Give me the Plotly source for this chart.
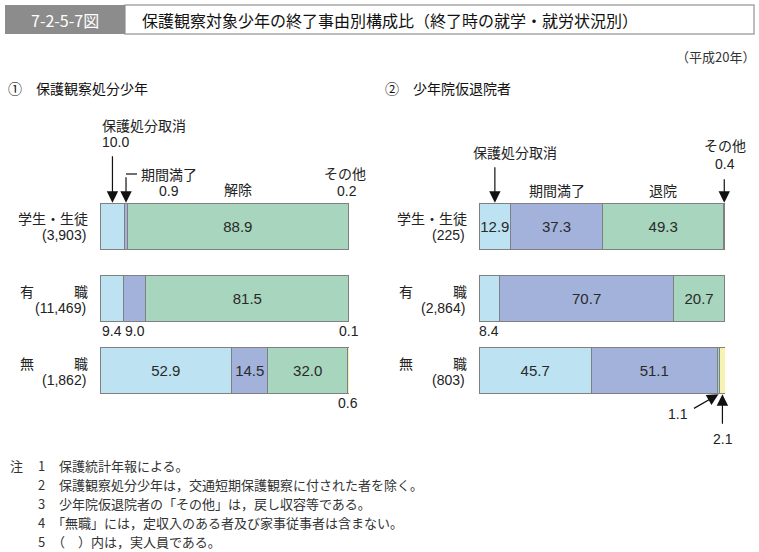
import plotly.graph_objects as go

W, H = 759, 552
FONT = "Liberation Sans, Noto Sans CJK JP, sans-serif"
JFONT = "Noto Sans CJK JP, sans-serif"

# ---------------- data ----------------
rows_left = ["学生・生徒", "有職", "無職"]
counts_left = ["3,903", "11,469", "1,862"]
seg_left = ["保護処分取消", "期間満了", "解除", "その他"]
vals_left = [
    [10.0, 9.4, 52.9],   # 保護処分取消
    [0.9, 9.0, 14.5],    # 期間満了
    [88.9, 81.5, 32.0],  # 解除
    [0.2, 0.1, 0.6],     # その他
]
inside_left = [
    [False, False, True],
    [False, False, True],
    [True, True, True],
    [False, False, False],
]

rows_right = ["学生・生徒", "有職", "無職"]
counts_right = ["225", "2,864", "803"]
seg_right = ["保護処分取消", "期間満了", "退院", "その他"]
vals_right = [
    [12.9, 8.4, 45.7],
    [37.3, 70.7, 51.1],
    [49.3, 20.7, 1.1],
    [0.4, 0.2, 2.1],
]
inside_right = [
    [True, False, True],
    [True, True, True],
    [True, True, False],
    [False, False, False],
]

colors = ["#bde3f3", "#a2b2da", "#a7d5bd", "#f7f2b0"]
edge = "#808080"

# ---------------- geometry helpers ----------------
LX0, LX1 = 100, 349
RX0, RX1 = 479, 725
ROW0_PX = 226.5   # pixel centre of first row
ROW_PX = 72.0     # pixel distance between rows
DOM_TOP, DOM_BOT = 105, 455


def yd(py):
    return (py - ROW0_PX) / ROW_PX


def xl(px):
    return (px - LX0) / (LX1 - LX0) * 100


def xr(px):
    return (px - RX0) / (RX1 - RX0) * 100


def PX(px):
    return px / W


def PY(py):
    return 1 - py / H


fig = go.Figure()

for vals, flags, names, xa, ya in [
    (vals_left, inside_left, seg_left, "x", "y"),
    (vals_right, inside_right, seg_right, "x2", "y2"),
]:
    for i, (v, f, n) in enumerate(zip(vals, flags, names)):
        fig.add_trace(go.Bar(
            orientation="h", x=v, y=[0, 1, 2], name=n,
            marker=dict(color=colors[i], line=dict(color=edge, width=1)),
            text=[f"{a:.1f}" if b else "" for a, b in zip(v, f)],
            textposition="inside", insidetextanchor="middle",
            constraintext="none", textangle=0,
            textfont=dict(family=FONT, size=15, color="#2a2a2a"),
            hoverinfo="skip", showlegend=False, width=0.65,
            xaxis=xa, yaxis=ya,
        ))

ann = []
shapes = []


def txt(x, y, s, xref="paper", yref="paper", xanchor="center", size=14, color="#222", font=FONT):
    ann.append(dict(x=x, y=y, xref=xref, yref=yref, text=s, showarrow=False,
                    xanchor=xanchor, yanchor="middle",
                    font=dict(family=font, size=size, color=color)))


def arrow(x, y, ax, ay, xref, yref):
    ann.append(dict(x=x, y=y, xref=xref, yref=yref, text="", showarrow=True,
                    ax=ax, ay=ay, arrowhead=2, arrowsize=1.9, arrowwidth=1.2,
                    arrowcolor="#111", standoff=0))


# header
shapes.append(dict(type="rect", xref="paper", yref="paper", x0=PX(125), x1=PX(754),
                   y0=PY(34), y1=PY(5), fillcolor="white", line=dict(color="#a8a8a8", width=1.5)))
shapes.append(dict(type="rect", xref="paper", yref="paper", x0=PX(5), x1=PX(125),
                   y0=PY(34), y1=PY(5), fillcolor="#8c8c8c", line=dict(width=0)))
txt(PX(65), PY(20), "7-2-5-7図", size=16, color="white", font=JFONT)
txt(PX(140), PY(20), "保護観察対象少年の終了事由別構成比（終了時の就学・就労状況別）",
    xanchor="left", size=16, color="#111", font=JFONT)
txt(PX(757), PY(56), "（平成20年）", xanchor="right", size=13, color="#333", font=JFONT)

txt(PX(6), PY(88), "①　保護観察処分少年", xanchor="left", size=14, color="#111", font=JFONT)
txt(PX(383), PY(88), "②　少年院仮退院者", xanchor="left", size=14, color="#111", font=JFONT)

# row labels
for rows, counts, rx, lx in [(rows_left, counts_left, 90, 18), (rows_right, counts_right, 469, 397)]:
    for r, (lab, cnt) in enumerate(zip(rows, counts)):
        cy = ROW0_PX + ROW_PX * r
        if len(lab) == 2:
            txt(PX(lx), PY(cy - 8), lab[0], xanchor="left", font=JFONT)
            txt(PX(rx), PY(cy - 8), lab[1], xanchor="right", font=JFONT)
        else:
            txt(PX(rx), PY(cy - 8), lab, xanchor="right", font=JFONT)
        txt(PX(rx - 2), PY(cy + 9), f"({cnt})", xanchor="right", size=14)

# ---- left panel outside labels ----
mid = lambda vals, k, r: sum(vals[j][r] for j in range(k)) + vals[k][r] / 2
bar_top = -0.33
bar_bot = 2.33

txt(0, yd(125), seg_left[0], "x", "y", xanchor="left", font=JFONT)
txt(0, yd(142), f"{vals_left[0][0]:.1f}", "x", "y", xanchor="left")
arrow(mid(vals_left, 0, 0), bar_top, 0, -48, "x", "y")

arrow(mid(vals_left, 1, 0), bar_top, 0, -27, "x", "y")
shapes.append(dict(type="line", xref="x", yref="y", x0=mid(vals_left, 1, 0), x1=xl(137),
                   y0=yd(174), y1=yd(174), line=dict(color="#111", width=1.2)))
txt(xl(169), yd(174), seg_left[1], "x", "y", font=JFONT)
txt(xl(169), yd(191), f"{vals_left[1][0]:.1f}", "x", "y")

txt(mid(vals_left, 2, 0), yd(189), seg_left[2], "x", "y", font=JFONT)
txt(xl(345), yd(173), seg_left[3], "x", "y", font=JFONT)
txt(xl(347), yd(191), f"{vals_left[3][0]:.1f}", "x", "y")

txt(mid(vals_left, 0, 1), yd(331), f"{vals_left[0][1]:.1f}", "x", "y")
txt(mid(vals_left, 1, 1), yd(331), f"{vals_left[1][1]:.1f}", "x", "y")
txt(mid(vals_left, 3, 1), yd(331), f"{vals_left[3][1]:.1f}", "x", "y")
txt(mid(vals_left, 3, 2), yd(403), f"{vals_left[3][2]:.1f}", "x", "y")

# ---- right panel outside labels ----
txt(xr(515), yd(152), seg_right[0], "x2", "y2", font=JFONT)
arrow(mid(vals_right, 0, 0), bar_top, 0, -37, "x2", "y2")
txt(mid(vals_right, 1, 0), yd(190), seg_right[1], "x2", "y2", font=JFONT)
txt(mid(vals_right, 2, 0), yd(190), seg_right[2], "x2", "y2", font=JFONT)
txt(xr(725), yd(145), seg_right[3], "x2", "y2", font=JFONT)
txt(xr(725), yd(164), f"{vals_right[3][0]:.1f}", "x2", "y2")
arrow(mid(vals_right, 3, 0), bar_top, 0, -25, "x2", "y2")

txt(mid(vals_right, 0, 1), yd(331), f"{vals_right[0][1]:.1f}", "x2", "y2")
txt(xr(729), yd(331), f"{vals_right[3][1]:.1f}", "x2", "y2")

arrow(mid(vals_right, 2, 2), bar_bot, -26, 15, "x2", "y2")
txt(xr(678), yd(414), f"{vals_right[2][2]:.1f}", "x2", "y2")
arrow(mid(vals_right, 3, 2), bar_bot, 0, 31, "x2", "y2")
txt(xr(723), yd(439), f"{vals_right[3][2]:.1f}", "x2", "y2")

# ---- notes ----
notes = [
    ("1", "保護統計年報による。"),
    ("2", "保護観察処分少年は，交通短期保護観察に付された者を除く。"),
    ("3", "少年院仮退院者の「その他」は，戻し収容等である。"),
    ("4", "「無職」には，定収入のある者及び家事従事者は含まない。"),
    ("5", "（　）内は，実人員である。"),
]
note_y = [465, 484, 503, 522, 541]
txt(PX(8), PY(note_y[0]), "注", xanchor="left", size=13, color="#333", font=JFONT)
for (n, s), py in zip(notes, note_y):
    txt(PX(36), PY(py), n, xanchor="left", size=13, color="#333", font=JFONT)
    txt(PX(50 if s.startswith("「") or s.startswith("（") else 57), PY(py), s,
        xanchor="left", size=13, color="#333", font=JFONT)

axis_x = dict(range=[0, 100], showgrid=False, zeroline=False, showticklabels=False,
              showline=False, ticks="", fixedrange=True)
axis_y = dict(range=[yd(DOM_BOT), yd(DOM_TOP)], showgrid=False, zeroline=False,
              showticklabels=False, showline=False, ticks="", fixedrange=True,
              domain=[PY(DOM_BOT), PY(DOM_TOP)])

fig.update_layout(
    width=W, height=H, margin=dict(l=0, r=0, t=0, b=0),
    paper_bgcolor="white", plot_bgcolor="white", barmode="stack",
    xaxis=dict(axis_x, domain=[PX(LX0), PX(LX1)], anchor="y"),
    yaxis=dict(axis_y, anchor="x"),
    xaxis2=dict(axis_x, domain=[PX(RX0), PX(RX1)], anchor="y2"),
    yaxis2=dict(axis_y, anchor="x2"),
    annotations=ann, shapes=shapes, showlegend=False,
)

fig.write_html("out.html", config={"displayModeBar": False},
               post_script="document.body.style.margin='0';")
